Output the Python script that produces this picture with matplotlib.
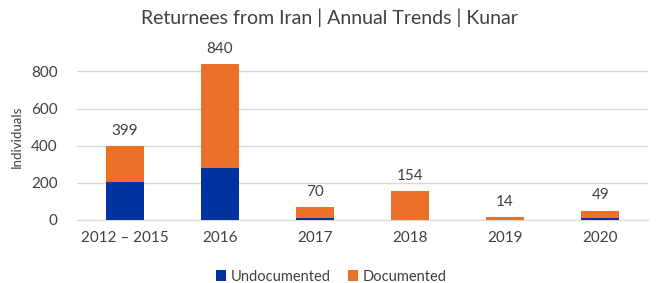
import matplotlib
matplotlib.use('Agg')
import matplotlib.pyplot as plt
import numpy as np

plt.rcParams['font.family'] = ['Lato', 'DejaVu Sans']

years = ['2012 \u2013 2015', '2016', '2017', '2018', '2019', '2020']
undocumented = [205, 280, 12, 0, 0, 10]
documented = [194, 560, 58, 154, 14, 39]
totals = [399, 840, 70, 154, 14, 49]

BLUE = '#0033a0'
ORANGE = '#ec7128'
TXT = '#404040'

fig = plt.figure(figsize=(6.59, 2.83), dpi=100)
ax = fig.add_axes([0.117, 0.223, 0.866, 0.59])

x = np.arange(len(years))
ax.bar(x, undocumented, width=0.4, color=BLUE, label='Undocumented', zorder=3)
ax.bar(x, documented, width=0.4, bottom=undocumented, color=ORANGE, label='Documented', zorder=3)

for i, t in enumerate(totals):
    ax.annotate(str(t), (x[i], t), xytext=(0, 6), textcoords='offset points',
                ha='center', va='bottom', fontsize=11, color=TXT)

ax.set_xlim(-0.5, len(years) - 0.5)
ax.set_ylim(0, 900)
ax.set_yticks([0, 200, 400, 600, 800])
ax.set_xticks(x)
ax.set_xticklabels(years)
ax.yaxis.grid(True, color='#d9d9d9', linewidth=1, zorder=0)
for s in ['top', 'right', 'left']:
    ax.spines[s].set_visible(False)
ax.spines['bottom'].set_color('#d9d9d9')
ax.tick_params(axis='both', length=0, colors=TXT, labelsize=11)
ax.tick_params(axis='x', pad=8)
ax.tick_params(axis='y', pad=14)
ax.set_ylabel('Individuals', fontsize=9.5, color=TXT, labelpad=6)

fig.suptitle('Returnees from Iran | Annual Trends | Kunar', y=0.97, fontsize=14, color=TXT)

ax.legend(loc='lower center', bbox_to_anchor=(0.445, -0.46), ncol=2, frameon=False,
          fontsize=10.5, labelcolor=TXT, handlelength=0.7, handleheight=0.7,
          handletextpad=0.3, columnspacing=1.2)

plt.savefig('out.png', dpi=100)
